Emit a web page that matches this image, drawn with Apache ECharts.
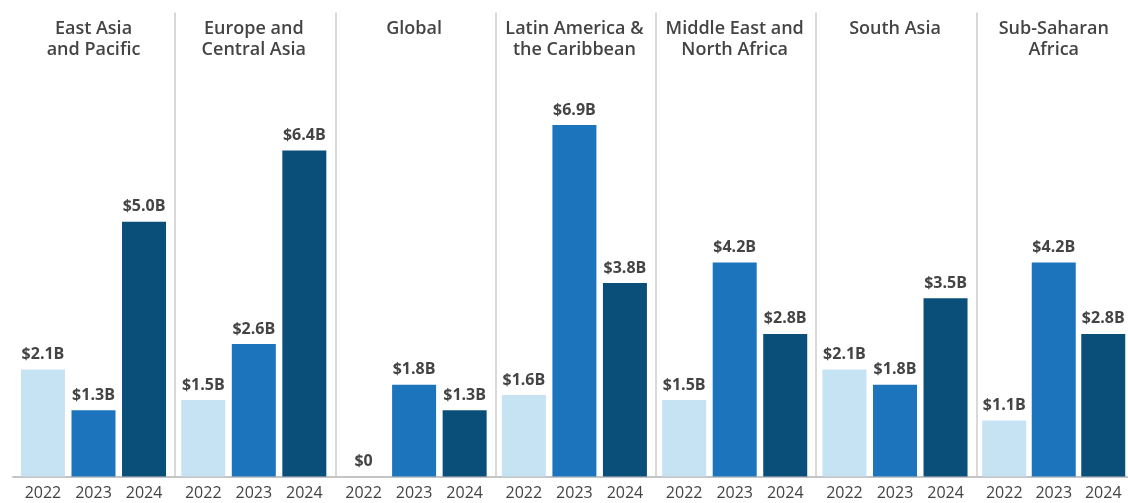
<!DOCTYPE html>
<html>
<head>
<meta charset="utf-8">
<script src="https://cdn.jsdelivr.net/npm/echarts@6/dist/echarts.min.js"></script>
<style>
  html, body { margin: 0; padding: 0; background: #fff; }
  #chart { width: 1128px; height: 503px; }
</style>
</head>
<body>
<div id="chart"></div>
<script>
// regions (panel titles) and the years inside each panel
const regions = [
  'East Asia\nand Pacific',
  'Europe and\nCentral Asia',
  'Global',
  'Latin America &\nthe Caribbean',
  'Middle East and\nNorth Africa',
  'South Asia',
  'Sub-Saharan\nAfrica'
]
const years = ['2022', '2023', '2024']

// funding in billions USD, one value per year for each region
const values2022 = [2.1, 1.5, 0, 1.6, 1.5, 2.1, 1.1]
const values2023 = [1.3, 2.6, 1.8, 6.9, 4.2, 1.8, 4.2]
const values2024 = [5.0, 6.4, 1.3, 3.8, 2.8, 3.5, 2.8]

const yearColors = ['#c5e3f3', '#1c75bc', '#0a4f79']
const textColor = '#444'
const font = 'Open Sans'

const panelLeft = 14.7
const panelW = 160.3
const gridTop = 13
const gridH = 463.5
const yMax = 9.1

// full-width grid only for the baseline
const grids = [{ left: 13, right: 0, top: gridTop, height: gridH }]
const xAxes = [{
  type: 'category',
  gridIndex: 0,
  data: years,
  axisLine: { show: true, lineStyle: { color: '#c4c4c4', width: 2 } },
  axisTick: { show: false },
  axisLabel: { show: false }
}]
const yAxes = [{ type: 'value', gridIndex: 0, show: false, min: 0, max: yMax }]
const series = []

regions.forEach((r, i) => {
  grids.push({ left: panelLeft + panelW * i + 3, top: gridTop, width: 151.6, height: gridH })
  // years under the bars
  xAxes.push({
    type: 'category',
    gridIndex: i + 1,
    data: years,
    axisLine: { show: false },
    axisTick: { show: false },
    axisLabel: {
      interval: 0,
      margin: 9,
      color: textColor,
      fontFamily: font,
      fontSize: 16
    }
  })
  // region title on top
  xAxes.push({
    type: 'category',
    gridIndex: i + 1,
    position: 'top',
    data: [r],
    axisLine: { show: false },
    axisTick: { show: false },
    axisLabel: {
      interval: 0,
      verticalAlign: 'top',
      margin: -5,
      color: textColor,
      fontFamily: font,
      fontSize: 18,
      fontWeight: 600,
      lineHeight: 21
    }
  })
  // the y axis line is the separator between panels
  yAxes.push({
    type: 'value',
    gridIndex: i + 1,
    min: 0,
    max: yMax,
    offset: 3,
    axisLine: { show: i > 0, lineStyle: { color: '#cccccc', width: 1.5 } },
    axisTick: { show: false },
    axisLabel: { show: false },
    splitLine: { show: false }
  })
  const vals = [values2022[i], values2023[i], values2024[i]]
  series.push({
    type: 'bar',
    xAxisIndex: 1 + 2 * i,
    yAxisIndex: i + 1,
    barWidth: 44,
    data: vals.map((v, j) => ({ value: v, itemStyle: { color: yearColors[j] } })),
    label: {
      show: true,
      position: 'top',
      distance: 7,
      color: textColor,
      fontFamily: font,
      fontSize: 16,
      fontWeight: 'bold',
      formatter: p => (p.value === 0 ? '$0' : '$' + p.value.toFixed(1) + 'B')
    }
  })
})

const chart = echarts.init(document.getElementById('chart'))
chart.setOption({
  animation: false,
  grid: grids,
  xAxis: xAxes,
  yAxis: yAxes,
  series: series
})
</script>
</body>
</html>
